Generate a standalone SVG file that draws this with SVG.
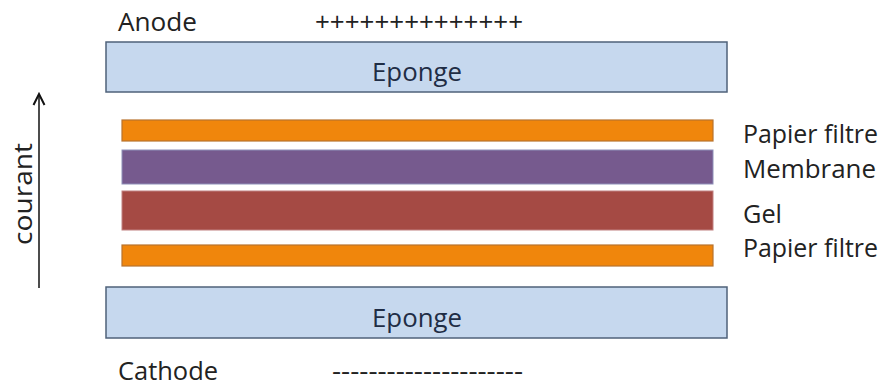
<svg xmlns="http://www.w3.org/2000/svg" width="888" height="387" viewBox="0 0 888 387">
<defs>
<style>
text{font-family:"Open Sans","Noto Sans",sans-serif;font-size:25.5px;fill:#222}
.sponge{fill:#c6d8ee;stroke:#4f627a;stroke-width:1.5}
.sp{fill:#1f2d45;text-anchor:middle}
.orange{fill:#f0860c;stroke:#b8732e;stroke-width:1.2}
.purple{fill:#765a8e;stroke:#8e8fb8;stroke-width:1}
.red{fill:#a54a44;stroke:#c08080;stroke-width:1}
</style>
<marker id="ah" viewBox="0 0 14 14" refX="12" refY="7" markerWidth="14" markerHeight="14" markerUnits="userSpaceOnUse" orient="auto">
<path d="M1,1.5 L12,7 L1,12.5" fill="none" stroke="#111" stroke-width="2"/>
</marker>
</defs>
<rect width="888" height="387" fill="#fff"/>
<g id="anode"><text x="118" y="31" textLength="79" lengthAdjust="spacingAndGlyphs">Anode</text><text x="315" y="31" textLength="208" lengthAdjust="spacingAndGlyphs">++++++++++++++</text></g>
<g id="eponge-top"><rect class="sponge" x="106" y="42" width="621" height="50"/><text class="sp" x="417" y="81" textLength="90" lengthAdjust="spacingAndGlyphs">Eponge</text></g>
<g id="papier1"><rect class="orange" x="122" y="120" width="591" height="21"/><text x="743" y="143" textLength="135" lengthAdjust="spacingAndGlyphs">Papier filtre</text></g>
<g id="membrane"><rect class="purple" x="122" y="150" width="591" height="34"/><text x="743" y="178" textLength="133" lengthAdjust="spacingAndGlyphs">Membrane</text></g>
<g id="gel"><rect class="red" x="122" y="191" width="591" height="39"/><text x="743" y="223" textLength="39" lengthAdjust="spacingAndGlyphs">Gel</text></g>
<g id="papier2"><rect class="orange" x="122" y="245" width="591" height="21"/><text x="743" y="257" textLength="135" lengthAdjust="spacingAndGlyphs">Papier filtre</text></g>
<g id="eponge-bottom"><rect class="sponge" x="106" y="287" width="621" height="51"/><text class="sp" x="417" y="327" textLength="90" lengthAdjust="spacingAndGlyphs">Eponge</text></g>
<g id="cathode"><text x="118" y="380" textLength="100" lengthAdjust="spacingAndGlyphs">Cathode</text><text x="332" y="380" textLength="191" lengthAdjust="spacingAndGlyphs">---------------------</text></g>
<g id="courant"><text transform="translate(32,194) rotate(-90)" text-anchor="middle" textLength="102" lengthAdjust="spacingAndGlyphs">courant</text></g>
<g id="connectors"><line x1="39" y1="288" x2="39" y2="94" stroke="#111" stroke-width="1.5" marker-end="url(#ah)"/></g>
</svg>
